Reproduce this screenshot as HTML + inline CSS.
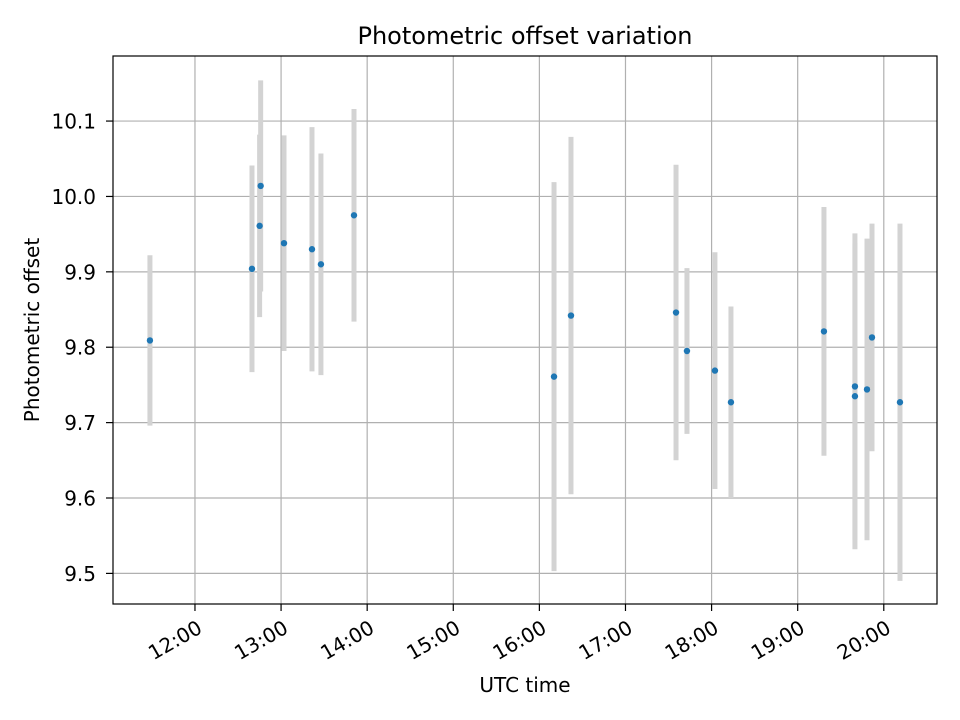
<!DOCTYPE html>
<html><head><meta charset="utf-8"><style>
body{margin:0;background:#fff}
svg{display:block;font-family:"DejaVu Sans","Liberation Sans",sans-serif}
</style></head><body>
<svg id="chart" width="960" height="720" viewBox="0 0 960 720">
<rect x="0" y="0" width="960" height="720" fill="#fff"/>
<g id="grid"></g>
<g id="errs"></g>
<g id="pts"></g>
<rect x="113" y="56" width="824" height="548" fill="none" stroke="#000" stroke-width="1.2"/>
<g id="xt"></g>
<g id="yt"></g>
<text x="525" y="44" text-anchor="middle" font-size="24">Photometric offset variation</text>
<text x="525" y="692" text-anchor="middle" font-size="20">UTC time</text>
<text x="39" y="330" text-anchor="middle" font-size="20" transform="rotate(-90 39 330)">Photometric offset</text>
</svg>
<script>
const times = [11.477,12.662,12.763,12.751,13.034,13.359,13.463,13.847,16.170,16.367,17.587,17.714,18.039,18.225,19.305,19.665,19.665,19.805,19.863,20.188];
const offsets = [9.809,9.904,10.014,9.961,9.938,9.930,9.910,9.975,9.761,9.842,9.846,9.795,9.769,9.727,9.821,9.748,9.735,9.744,9.813,9.727];
const errors = [0.113,0.137,0.140,0.121,0.143,0.162,0.147,0.141,0.258,0.237,0.196,0.110,0.157,0.127,0.165,0.203,0.203,0.200,0.151,0.237];
const xTickHours = [12,13,14,15,16,17,18,19,20];
const xTickLabels = ["12:00","13:00","14:00","15:00","16:00","17:00","18:00","19:00","20:00"];
const yTickValues = [9.5,9.6,9.7,9.8,9.9,10.0,10.1];
const yTickLabels = ["9.5","9.6","9.7","9.8","9.9","10.0","10.1"];

const NS="http://www.w3.org/2000/svg";
const X0=113,X1=937,Y0=56,Y1=604;
const xMin=11.048,xMax=20.618,yMin=9.4594,yMax=10.1863;
const xs=h=>X0+(h-xMin)/(xMax-xMin)*(X1-X0);
const ys=v=>Y1-(v-yMin)/(yMax-yMin)*(Y1-Y0);
function mk(tag,attrs,parent){const e=document.createElementNS(NS,tag);for(const k in attrs)e.setAttribute(k,attrs[k]);document.getElementById(parent).appendChild(e);return e;}

xTickHours.forEach((h,i)=>{
  const x=xs(h);
  const g=mk('line',{x1:x,x2:x,y1:Y0,y2:Y1,stroke:'#b0b0b0','stroke-width':1.2},'grid');
  
  
  const t=mk('line',{x1:x,x2:x,y1:Y1,y2:Y1+7,stroke:'#000','stroke-width':1.2},'xt');
  
  
  const l=mk('text',{x:x,y:Y1+30,'text-anchor':'end','font-size':20,transform:`rotate(-30 ${x} ${Y1+13})`},'xt');
  l.textContent=xTickLabels[i];
  
  
});
yTickValues.forEach((v,i)=>{
  const y=ys(v);
  const g=mk('line',{x1:X0,x2:X1,y1:y,y2:y,stroke:'#b0b0b0','stroke-width':1.2},'grid');
  
  
  const t=mk('line',{x1:X0-7,x2:X0,y1:y,y2:y,stroke:'#000','stroke-width':1.2},'yt');
  
  
  const l=mk('text',{x:X0-17,y:y+7.5,'text-anchor':'end','font-size':20},'yt');
  l.textContent=yTickLabels[i];
  
  
});
times.forEach((h,i)=>{
  const x=xs(h);
  const b=mk('line',{x1:x,x2:x,y1:ys(offsets[i]+errors[i]),y2:ys(offsets[i]-errors[i]),stroke:'#d3d3d3','stroke-width':5},'errs');
  
  
  const c=mk('circle',{cx:x,cy:ys(offsets[i]),r:3.2,fill:'#1f77b4'},'pts');
  
  
});
</script>
</body></html>
